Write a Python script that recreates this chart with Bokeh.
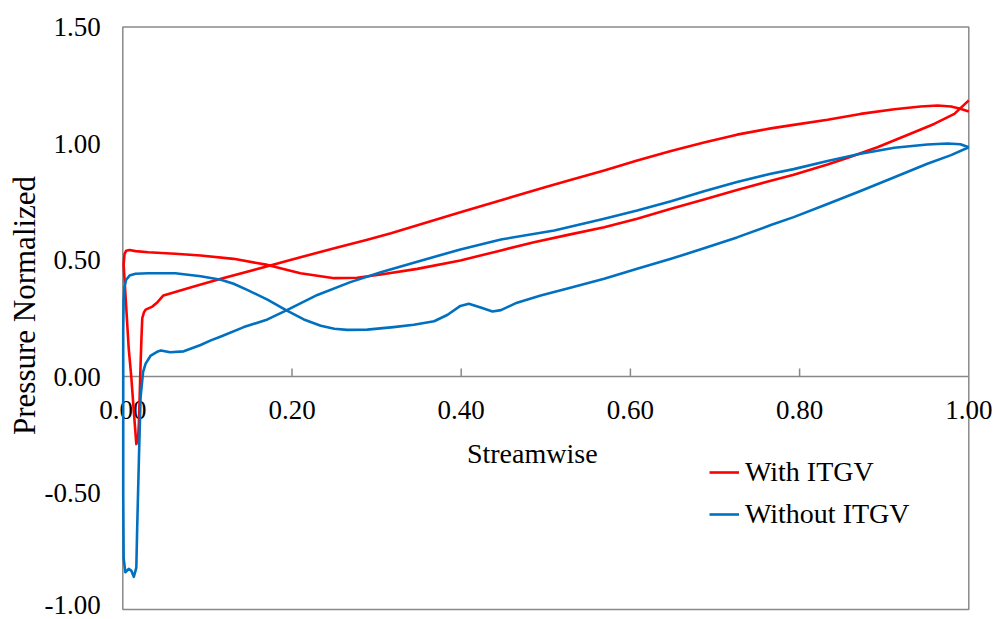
import numpy as np
from bokeh.plotting import figure
from bokeh.models import Range1d, Legend, LegendItem
from bokeh.embed import file_html
from bokeh.resources import INLINE
from bokeh.core.properties import value

# ---------------- data ----------------
# With ITGV, surface 1 (leading edge -> trailing edge)
with_s1_x = [0.001, 0.002, 0.004, 0.008, 0.015, 0.030, 0.062, 0.092, 0.131, 0.171, 0.210,
             0.250, 0.277, 0.305, 0.348, 0.399, 0.447, 0.486, 0.529, 0.569, 0.608, 0.648,
             0.687, 0.726, 0.766, 0.793, 0.833, 0.857, 0.892, 0.931, 0.959, 0.983, 1.0]
with_s1_y = [0.48, 0.525, 0.540, 0.543, 0.538, 0.533, 0.527, 0.519, 0.505, 0.479, 0.443,
             0.422, 0.424, 0.438, 0.462, 0.498, 0.541, 0.576, 0.610, 0.641, 0.677, 0.720,
             0.760, 0.800, 0.840, 0.866, 0.910, 0.939, 0.984, 1.042, 1.084, 1.127, 1.185]
# With ITGV, surface 2 (leading edge -> trailing edge)
with_s2_x = [0.001, 0.004, 0.007, 0.010, 0.013, 0.016, 0.018, 0.019, 0.020, 0.021, 0.022,
             0.023, 0.025, 0.027, 0.035, 0.041, 0.048, 0.062, 0.084, 0.116, 0.171, 0.210,
             0.250, 0.289, 0.317, 0.400, 0.500, 0.529, 0.569, 0.608, 0.648, 0.687, 0.726,
             0.766, 0.793, 0.833, 0.872, 0.912, 0.943, 0.963, 0.979, 0.990, 1.0]
with_s2_y = [0.48, 0.30, 0.12, 0.0, -0.15, -0.29, -0.27, -0.20, -0.08, 0.05, 0.16,
             0.25, 0.275, 0.287, 0.300, 0.319, 0.348, 0.363, 0.386, 0.419, 0.473, 0.512,
             0.550, 0.587, 0.615, 0.706, 0.813, 0.843, 0.884, 0.927, 0.968, 1.004, 1.038,
             1.065, 1.080, 1.102, 1.127, 1.147, 1.159, 1.163, 1.159, 1.149, 1.137]

# Without ITGV, surface 1 (leading edge -> trailing edge)
without_s1_x = [0.0005, 0.001, 0.002, 0.004, 0.008, 0.015, 0.030, 0.062, 0.092, 0.116, 0.131,
                0.147, 0.171, 0.194, 0.214, 0.234, 0.250, 0.265, 0.289, 0.320, 0.344, 0.368,
                0.384, 0.399, 0.409, 0.423, 0.437, 0.447, 0.466, 0.494, 0.529, 0.569, 0.608,
                0.648, 0.687, 0.726, 0.766, 0.793, 0.833, 0.872, 0.912, 0.951, 0.979, 1.0]
without_s1_y = [0.20, 0.33, 0.385, 0.415, 0.433, 0.441, 0.443, 0.443, 0.430, 0.415, 0.398,
                0.372, 0.330, 0.283, 0.245, 0.218, 0.205, 0.200, 0.201, 0.212, 0.222, 0.237,
                0.265, 0.303, 0.312, 0.296, 0.279, 0.285, 0.317, 0.348, 0.381, 0.420, 0.462,
                0.505, 0.550, 0.597, 0.650, 0.684, 0.740, 0.796, 0.855, 0.913, 0.950, 0.984]
# Without ITGV, surface 2 (leading edge -> trailing edge)
without_s2_x = [0.0005, 0.001, 0.003, 0.007, 0.010, 0.013, 0.016, 0.017, 0.019, 0.021, 0.024,
                0.027, 0.033, 0.040, 0.045, 0.056, 0.072, 0.080, 0.092, 0.104, 0.116, 0.143,
                0.171, 0.194, 0.230, 0.269, 0.305, 0.348, 0.399, 0.447, 0.510, 0.569, 0.608,
                0.648, 0.687, 0.726, 0.766, 0.793, 0.833, 0.872, 0.912, 0.951, 0.975, 0.990, 1.0]
without_s2_y = [-0.50, -0.78, -0.84, -0.826, -0.833, -0.86, -0.82, -0.65, -0.36, -0.09, 0.02,
                0.055, 0.090, 0.105, 0.112, 0.104, 0.108, 0.119, 0.135, 0.155, 0.172, 0.212,
                0.245, 0.285, 0.350, 0.405, 0.447, 0.493, 0.545, 0.588, 0.627, 0.677, 0.712,
                0.752, 0.795, 0.835, 0.870, 0.890, 0.925, 0.956, 0.982, 0.996, 1.0, 0.997, 0.984]

x_tick_vals = [0.0, 0.2, 0.4, 0.6, 0.8, 1.0]
x_tick_labels = ["0.00", "0.20", "0.40", "0.60", "0.80", "1.00"]
y_tick_vals = [-1.0, -0.5, 0.0, 0.5, 1.0, 1.5]
y_tick_labels = ["-1.00", "-0.50", "0.00", "0.50", "1.00", "1.50"]

series_names = ["With ITGV", "Without ITGV"]
x_title = "Streamwise"
y_title = "Pressure Normalized"

# ---------------- layout / styling ----------------
W, H = 995, 619
AREA_L, AREA_R, AREA_T, AREA_B = 122.3, 968.3, 26.5, 609.0   # plot-area edges, px
X0, X1 = min(x_tick_vals), max(x_tick_vals)
Y0, Y1 = min(y_tick_vals), max(y_tick_vals)
sx = (AREA_R - AREA_L) / (X1 - X0)
sy = (AREA_B - AREA_T) / (Y1 - Y0)
x_range = Range1d(X0 - AREA_L / sx, X1 + (W - AREA_R) / sx)
y_range = Range1d(Y0 - (H - AREA_B) / sy, Y1 + AREA_T / sy)

FONT = "Liberation Serif"
GRAY = "#898989"
RED = "#FF0000"
BLUE = "#0070C0"

p = figure(width=W, height=H, x_range=x_range, y_range=y_range,
           output_backend="svg", toolbar_location=None,
           x_axis_location=None, y_axis_location=None, min_border=0)
p.background_fill_color = "white"
p.border_fill_color = "white"
p.outline_line_color = None
p.grid.visible = False

# plot-area frame
p.quad(left=[X0], right=[X1], bottom=[Y0], top=[Y1], fill_color=None,
       line_color=GRAY, line_width=1.5)

# vertical axis labels
p.text(x=[X0] * len(y_tick_vals), y=y_tick_vals, text=y_tick_labels, x_offset=-22,
       y_offset=[-5 if v == Y0 else 0 for v in y_tick_vals],
       text_font=value(FONT), text_font_size="27px", text_color="black",
       text_align="right", text_baseline="middle")
p.text(x=[X0], y=[0.305], text=[y_title], x_offset=-98, angle=np.pi / 2,
       text_font=value(FONT), text_font_size="31px", text_color="black",
       text_align="center", text_baseline="middle")

# horizontal axis drawn at y = 0
p.segment(x0=[X0], y0=[0], x1=[X1], y1=[0], line_color=GRAY, line_width=1.5)
p.ray(x=x_tick_vals[1:-1], y=[0] * (len(x_tick_vals) - 2), length=8, length_units="screen",
      angle=np.pi / 2, line_color=GRAY, line_width=1.5)
p.text(x=x_tick_vals, y=[0] * len(x_tick_vals), text=x_tick_labels, y_offset=33,
       text_font=value(FONT), text_font_size="27px", text_color="black",
       text_align="center", text_baseline="middle")
p.text(x=[0.484], y=[0], text=[x_title], y_offset=77,
       text_font=value(FONT), text_font_size="28px", text_color="black",
       text_align="center", text_baseline="middle")

red_x = with_s1_x[::-1] + with_s2_x
red_y = with_s1_y[::-1] + with_s2_y
blue_x = without_s1_x[::-1] + without_s2_x
blue_y = without_s1_y[::-1] + without_s2_y

r_red = p.line(red_x, red_y, line_color=RED, line_width=2.6, line_join="round")
r_blue = p.line(blue_x, blue_y, line_color=BLUE, line_width=2.6, line_join="round")

legend = Legend(items=[LegendItem(label=series_names[0], renderers=[r_red]),
                       LegendItem(label=series_names[1], renderers=[r_blue])],
                location=(709, 89), background_fill_alpha=0, border_line_color=None,
                label_text_font=FONT, label_text_font_size="28px", label_text_color="black",
                glyph_width=30, glyph_height=30, label_height=30, label_standoff=6,
                spacing=10, padding=0, margin=0)
p.add_layout(legend)

open("out.html", "w").write(file_html(p, INLINE))
